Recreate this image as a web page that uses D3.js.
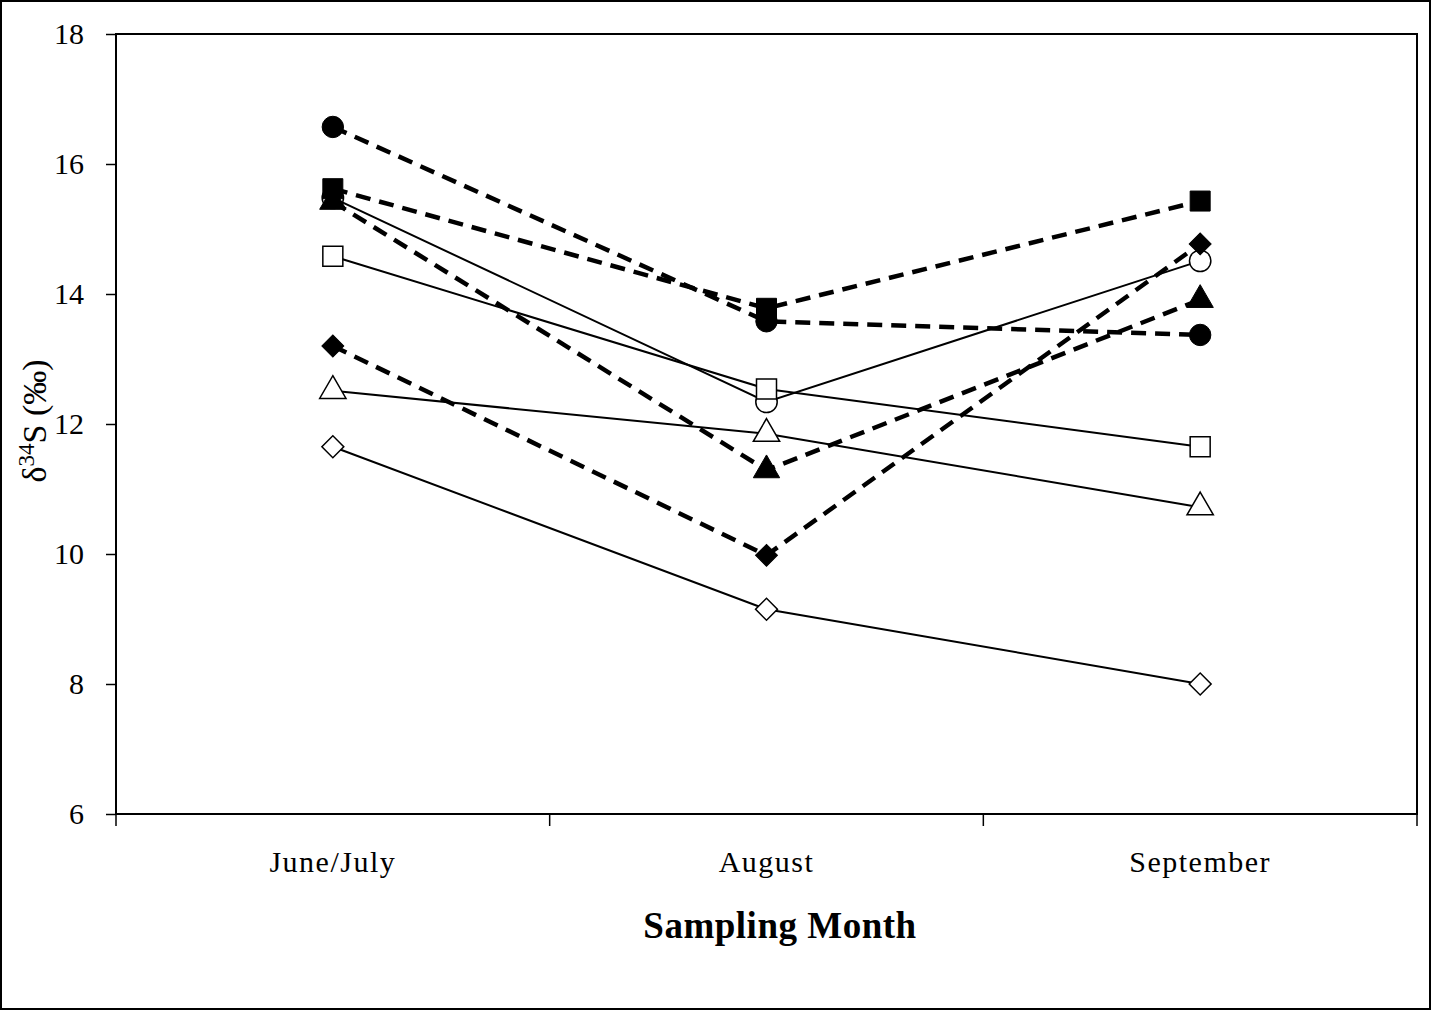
<!DOCTYPE html>
<html>
<head>
<meta charset="utf-8">
<script src="https://cdn.jsdelivr.net/npm/d3@7"></script>
<style>
  body { margin: 0; background: #fff; }
  text { font-family: "Liberation Serif", "DejaVu Serif", serif; fill: #000; }
</style>
</head>
<body>
<svg id="chart"></svg>
<script>
var width = 1433;
var height = 1012;

var margin = { top: 34, right: 16, bottom: 198, left: 116 };

var months = ["June/July", "August", "September"];
var yTicks = [6, 8, 10, 12, 14, 16, 18];

// one array per site, values in the order of months
var filledCircle   = [16.57, 13.58, 13.37];
var filledSquare   = [15.62, 13.78, 15.43];
var filledTriangle = [15.42, 11.29, 13.91];
var filledDiamond  = [13.20, 9.98, 14.77];
var openCircle     = [15.48, 12.34, 14.51];
var openSquare     = [14.58, 12.54, 11.65];
var openTriangle   = [12.51, 11.85, 10.72];
var openDiamond    = [11.65, 9.15, 8.00];

var series = [
    { values: openDiamond, shape: "diamond", filled: false, dashed: false },
    { values: openTriangle, shape: "triangle", filled: false, dashed: false },
    { values: openCircle, shape: "circle", filled: false, dashed: false },
    { values: openSquare, shape: "square", filled: false, dashed: false },
    { values: filledDiamond, shape: "diamond", filled: true, dashed: true },
    { values: filledTriangle, shape: "triangle", filled: true, dashed: true },
    { values: filledCircle, shape: "circle", filled: true, dashed: true },
    { values: filledSquare, shape: "square", filled: true, dashed: true }
];

var chartWidth = width - margin.left - margin.right;
var chartHeight = height - margin.top - margin.bottom;

var svg = d3.select("#chart")
    .attr("width", width)
    .attr("height", height);

// outer frame
svg.append("rect")
    .attr("x", 1).attr("y", 1)
    .attr("width", width - 4).attr("height", height - 4)
    .attr("fill", "none")
    .attr("stroke", "#000")
    .attr("stroke-width", 2);

var g = svg.append("g")
    .attr("transform", "translate(" + margin.left + "," + margin.top + ")");

var xScale = d3.scaleBand()
    .domain(months)
    .range([0, chartWidth]);

var yScale = d3.scaleLinear()
    .domain([6, 18])
    .range([chartHeight, 0]);

// plot box
g.append("rect")
    .attr("width", chartWidth)
    .attr("height", chartHeight)
    .attr("fill", "none")
    .attr("stroke", "#000")
    .attr("stroke-width", 2);

// y-axis
var yAxis = g.append("g")
    .call(d3.axisLeft(yScale).tickValues(yTicks).tickSize(10).tickPadding(22));
yAxis.select(".domain").remove();
yAxis.selectAll(".tick line").attr("stroke-width", 1.5);
yAxis.selectAll(".tick text")
    .style("font-size", "30px")
    .style("font-family", "Liberation Serif, serif");

// x-axis: ticks sit on band edges
var xAxis = g.append("g")
    .attr("transform", "translate(0," + chartHeight + ")");
var edges = months.map(function(m) { return xScale(m); }).concat([chartWidth]);
xAxis.selectAll(".edge")
    .data(edges)
    .enter().append("line")
    .attr("x1", function(d) { return d; })
    .attr("x2", function(d) { return d; })
    .attr("y1", 0)
    .attr("y2", 12)
    .attr("stroke", "#000")
    .attr("stroke-width", 1.5);
xAxis.selectAll(".monthLabel")
    .data(months)
    .enter().append("text")
    .attr("class", "monthLabel")
    .attr("x", function(d) { return xScale(d) + xScale.bandwidth() / 2; })
    .attr("y", 58)
    .style("text-anchor", "middle")
    .style("font-size", "30px")
    .style("letter-spacing", "1.5px")
    .text(function(d) { return d; });

// axis titles
svg.append("text")
    .attr("x", 780)
    .attr("y", 938)
    .style("text-anchor", "middle")
    .style("font-size", "37px")
    .style("font-weight", "bold")
    .style("letter-spacing", "0.5px")
    .text("Sampling Month");

var yLabel = svg.append("text")
    .attr("transform", "translate(46,421) rotate(-90)")
    .style("text-anchor", "middle")
    .style("font-size", "34px");
yLabel.append("tspan").text("δ");
yLabel.append("tspan").attr("dy", -12).style("font-size", "23px").text("34");
yLabel.append("tspan").attr("dy", 12).text("S (‰)");

var xPos = function(d, i) { return xScale(months[i]) + xScale.bandwidth() / 2; };

var line = d3.line()
    .x(xPos)
    .y(function(d) { return yScale(d); });

var shapes = {
    square: { type: d3.symbolSquare, size: 400, rotate: 0 },
    circle: { type: d3.symbolCircle, size: 360, rotate: 0 },
    triangle: { type: d3.symbolTriangle, size: 300, rotate: 0 },
    diamond: { type: d3.symbolSquare, size: 240, rotate: 45 }
};

series.forEach(function(s) {
    var shp = shapes[s.shape];

    g.append("path")
        .datum(s.values)
        .attr("d", line)
        .attr("fill", "none")
        .attr("stroke", "#000")
        .attr("stroke-width", s.dashed ? 4.5 : 2)
        .attr("stroke-dasharray", s.dashed ? "15,9" : null);

    g.selectAll(null)
        .data(s.values)
        .enter().append("path")
        .attr("transform", function(d, i) {
            return "translate(" + xPos(d, i) + "," + yScale(d) + ") rotate(" + shp.rotate + ")";
        })
        .attr("d", d3.symbol().type(shp.type).size(shp.size))
        .attr("fill", s.filled ? "#000" : "#fff")
        .attr("stroke", "#000")
        .attr("stroke-width", s.filled ? 1 : 1.5);
});
</script>
</body>
</html>
